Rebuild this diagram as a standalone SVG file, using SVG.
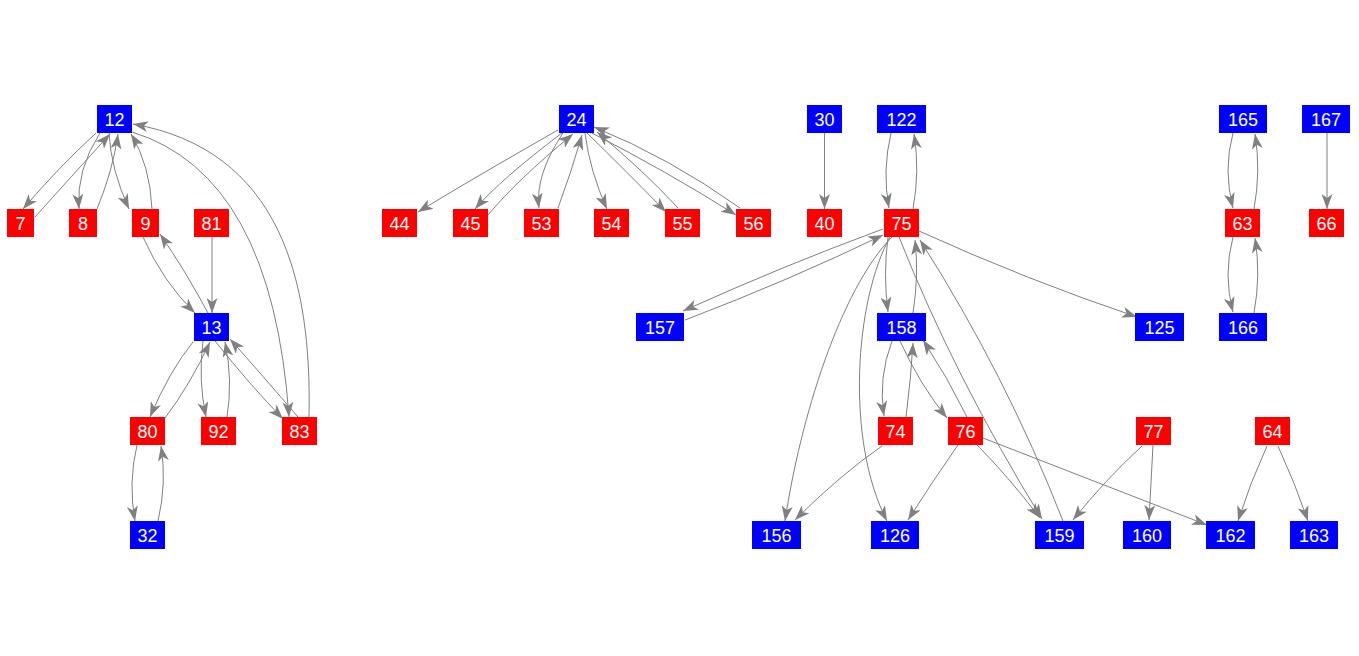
<svg xmlns="http://www.w3.org/2000/svg" width="1359" height="656" viewBox="0 0 1359 656">
<style>
.e{fill:none;stroke:#808080;stroke-width:1;marker-end:url(#a)}
.r{fill:#ff0000}
.b{fill:#0000ff}
text{font-family:"Liberation Sans",Arial,sans-serif;font-size:18px;fill:#ffffff;text-anchor:middle}
</style>
<defs>
<marker id="a" markerUnits="userSpaceOnUse" markerWidth="15" markerHeight="11" refX="15" refY="5.5" orient="auto">
<path d="M0,0 L15,5.5 L0,11 L4,5.5 z" fill="#808080"/>
</marker>
</defs>
<rect width="1359" height="656" fill="#ffffff"/>
<g id="edges">
<path class="e" d="M96,133 Q58,168 23,209"/>
<path class="e" d="M35,217 Q70,178 110,134"/>
<path class="e" d="M100,133 Q76,170 79,209"/>
<path class="e" d="M97,209 Q113,170 118,134"/>
<path class="e" d="M109,133 Q111,170 129,209"/>
<path class="e" d="M152,209 Q150,165 131,134"/>
<path class="e" d="M132,132 Q272,175 289,417"/>
<path class="e" d="M309,417 C312,280 280,150 133,124"/>
<path class="e" d="M143,237 Q163,282 195,313"/>
<path class="e" d="M208,313 Q185,270 160,234"/>
<path class="e" d="M212,237 L212,313"/>
<path class="e" d="M193,342 Q170,370 150,417"/>
<path class="e" d="M165,418 Q190,385 210,342"/>
<path class="e" d="M203,341 Q198,380 206,417"/>
<path class="e" d="M227,417 Q233,380 225,342"/>
<path class="e" d="M215,341 Q250,385 283,419"/>
<path class="e" d="M298,417 Q262,375 230,339"/>
<path class="e" d="M137,445 Q128,483 135,521"/>
<path class="e" d="M158,521 Q167,483 161,446"/>
<path class="e" d="M558,130 Q472,179 418,212"/>
<path class="e" d="M562,133 Q501,179 475,209"/>
<path class="e" d="M488,215 Q517,180 573,134"/>
<path class="e" d="M563,133 Q535,175 539,208"/>
<path class="e" d="M558,208 Q572,170 582,135"/>
<path class="e" d="M585,133 Q590,172 607,209"/>
<path class="e" d="M587,133 Q625,170 666,212"/>
<path class="e" d="M678,208 Q645,172 597,132"/>
<path class="e" d="M590,132 Q668,172 736,215"/>
<path class="e" d="M740,208 Q670,158 594,127"/>
<path class="e" d="M824.5,133 L824.5,209"/>
<path class="e" d="M891,133 Q882,171 889,208"/>
<path class="e" d="M913,209 Q920,171 914,134"/>
<path class="e" d="M883,229 Q785,265 683,311"/>
<path class="e" d="M685,320 Q790,280 883,235"/>
<path class="e" d="M919,231 Q1027,280 1137,317"/>
<path class="e" d="M888,237 Q883,275 888,312"/>
<path class="e" d="M913,313 Q919,275 915,240"/>
<path class="e" d="M892,237 C840,290 800,420 785,521"/>
<path class="e" d="M890,237 C855,300 845,440 887,521"/>
<path class="e" d="M899,237 Q955,378 1042,519"/>
<path class="e" d="M1063,521 Q1006,375 920,240"/>
<path class="e" d="M892,341 Q878,378 884,416"/>
<path class="e" d="M906,417 Q911,378 913,343"/>
<path class="e" d="M900,341 Q920,385 947,418"/>
<path class="e" d="M967,417 Q948,378 923,340"/>
<path class="e" d="M882,446 Q840,475 795,520"/>
<path class="e" d="M958,445 Q932,482 908,520"/>
<path class="e" d="M977,445 Q1007,475 1040,518"/>
<path class="e" d="M983,438 L1207,525"/>
<path class="e" d="M1142,446 Q1105,480 1073,520"/>
<path class="e" d="M1153,445 Q1151,483 1149,520"/>
<path class="e" d="M1267,446 Q1250,483 1238,521"/>
<path class="e" d="M1278,446 Q1295,483 1308,521"/>
<path class="e" d="M1233,133 Q1223,170 1233,208"/>
<path class="e" d="M1254,209 Q1261,171 1255,134"/>
<path class="e" d="M1233,237 Q1223,275 1233,312"/>
<path class="e" d="M1254,313 Q1261,275 1255,238"/>
<path class="e" d="M1327,133 L1327,209"/>
</g>
<g id="n12"><rect class="b" x="97" y="105" width="35" height="28"/><text x="114.5" y="125.5">12</text></g>
<g id="n24"><rect class="b" x="559" y="105" width="35" height="28"/><text x="576.5" y="125.5">24</text></g>
<g id="n30"><rect class="b" x="807" y="105" width="35" height="28"/><text x="824.5" y="125.5">30</text></g>
<g id="n122"><rect class="b" x="877" y="105" width="49" height="28"/><text x="901.5" y="125.5">122</text></g>
<g id="n165"><rect class="b" x="1219" y="105" width="48" height="28"/><text x="1243" y="125.5">165</text></g>
<g id="n167"><rect class="b" x="1302" y="105" width="48" height="28"/><text x="1326" y="125.5">167</text></g>
<g id="n7"><rect class="r" x="7" y="209" width="27" height="28"/><text x="20.5" y="229.5">7</text></g>
<g id="n8"><rect class="r" x="69" y="209" width="28" height="28"/><text x="83" y="229.5">8</text></g>
<g id="n9"><rect class="r" x="132" y="209" width="27" height="28"/><text x="145.5" y="229.5">9</text></g>
<g id="n81"><rect class="r" x="194" y="209" width="35" height="28"/><text x="211.5" y="229.5">81</text></g>
<g id="n44"><rect class="r" x="382" y="209" width="35" height="28"/><text x="399.5" y="229.5">44</text></g>
<g id="n45"><rect class="r" x="453" y="209" width="35" height="28"/><text x="470.5" y="229.5">45</text></g>
<g id="n53"><rect class="r" x="524" y="209" width="35" height="28"/><text x="541.5" y="229.5">53</text></g>
<g id="n54"><rect class="r" x="594" y="209" width="35" height="28"/><text x="611.5" y="229.5">54</text></g>
<g id="n55"><rect class="r" x="665" y="209" width="35" height="28"/><text x="682.5" y="229.5">55</text></g>
<g id="n56"><rect class="r" x="736" y="209" width="35" height="28"/><text x="753.5" y="229.5">56</text></g>
<g id="n40"><rect class="r" x="807" y="209" width="35" height="28"/><text x="824.5" y="229.5">40</text></g>
<g id="n75"><rect class="r" x="884" y="209" width="35" height="28"/><text x="901.5" y="229.5">75</text></g>
<g id="n63"><rect class="r" x="1225" y="209" width="35" height="28"/><text x="1242.5" y="229.5">63</text></g>
<g id="n66"><rect class="r" x="1309" y="209" width="35" height="28"/><text x="1326.5" y="229.5">66</text></g>
<g id="n13"><rect class="b" x="194" y="313" width="35" height="28"/><text x="211.5" y="333.5">13</text></g>
<g id="n157"><rect class="b" x="636" y="313" width="48" height="28"/><text x="660" y="333.5">157</text></g>
<g id="n158"><rect class="b" x="877" y="313" width="49" height="28"/><text x="901.5" y="333.5">158</text></g>
<g id="n125"><rect class="b" x="1135" y="313" width="49" height="28"/><text x="1159.5" y="333.5">125</text></g>
<g id="n166"><rect class="b" x="1219" y="313" width="48" height="28"/><text x="1243" y="333.5">166</text></g>
<g id="n80"><rect class="r" x="130" y="417" width="35" height="28"/><text x="147.5" y="437.5">80</text></g>
<g id="n92"><rect class="r" x="201" y="417" width="35" height="28"/><text x="218.5" y="437.5">92</text></g>
<g id="n83"><rect class="r" x="282" y="417" width="35" height="28"/><text x="299.5" y="437.5">83</text></g>
<g id="n74"><rect class="r" x="878" y="417" width="35" height="28"/><text x="895.5" y="437.5">74</text></g>
<g id="n76"><rect class="r" x="948" y="417" width="35" height="28"/><text x="965.5" y="437.5">76</text></g>
<g id="n77"><rect class="r" x="1136" y="417" width="35" height="28"/><text x="1153.5" y="437.5">77</text></g>
<g id="n64"><rect class="r" x="1255" y="417" width="35" height="28"/><text x="1272.5" y="437.5">64</text></g>
<g id="n32"><rect class="b" x="130" y="521" width="35" height="28"/><text x="147.5" y="541.5">32</text></g>
<g id="n156"><rect class="b" x="752" y="521" width="49" height="28"/><text x="776.5" y="541.5">156</text></g>
<g id="n126"><rect class="b" x="871" y="521" width="48" height="28"/><text x="895" y="541.5">126</text></g>
<g id="n159"><rect class="b" x="1035" y="521" width="49" height="28"/><text x="1059.5" y="541.5">159</text></g>
<g id="n160"><rect class="b" x="1123" y="521" width="48" height="28"/><text x="1147" y="541.5">160</text></g>
<g id="n162"><rect class="b" x="1206" y="521" width="49" height="28"/><text x="1230.5" y="541.5">162</text></g>
<g id="n163"><rect class="b" x="1290" y="521" width="48" height="28"/><text x="1314" y="541.5">163</text></g>
</svg>
